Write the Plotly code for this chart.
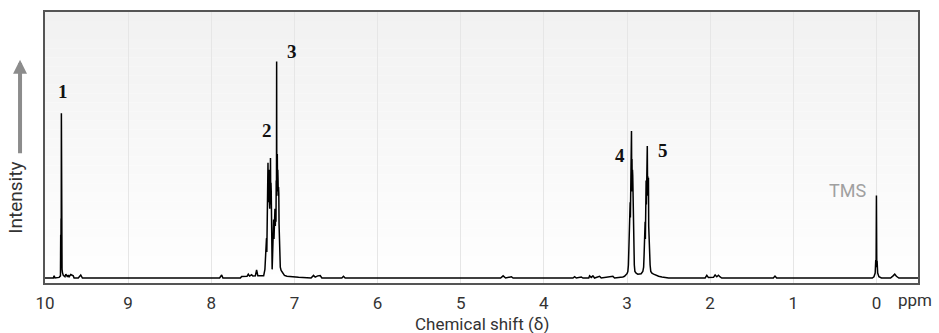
import plotly.graph_objects as go

# ---------------- data (chemical shift in ppm, relative intensity) ----------------
baseline_ppm = [10.0, 9.90, 9.89, 9.88, 9.60, 9.57, 9.55, 9.0, 8.0, 7.90, 7.875, 7.86,
                7.65, 7.635, 7.57, 7.555, 7.54, 7.525, 7.515, 7.50, 7.47, 7.455, 7.44, 7.415, 7.39,
                6.95, 6.80, 6.77, 6.75, 6.72, 6.69, 6.67, 6.43, 6.41, 6.39, 5.0, 4.52, 4.49, 4.46,
                4.39, 4.37, 3.65, 3.63, 3.61, 3.55, 3.53, 3.46, 3.45, 3.43, 3.41, 3.39, 3.33,
                3.31, 3.17, 3.15, 3.05,
                2.40, 2.06, 2.04, 2.02, 1.96, 1.94, 1.92, 1.90, 1.88, 1.86, 1.24, 1.22, 1.20,
                0.5, 0.10, -0.06, -0.17, -0.20, -0.22, -0.24, -0.27, -0.5]
baseline_int = [0.0, 0.0, 1.0, 0.0, 0.0, 1.4, 0.0, 0.0, 0.0, 0.0, 1.4, 0.0,
                0.0, 0.7, 0.8, 1.8, 0.9, 1.2, 1.5, 0.9, 1.0, 3.7, 1.0, 1.0, 0.9,
                0.3, 0.0, 1.2, 0.4, 1.0, 1.1, 0.0, 0.0, 0.8, 0.0, 0.0, 0.0, 1.0, 0.0,
                0.6, 0.0, 0.0, 0.6, 0.0, 0.5, 0.0, 0.0, 1.0, 0.3, 1.0, 0.0, 0.8,
                0.0, 0.8, 0.0, 0.5,
                0.0, 0.0, 1.2, 0.2, 0.3, 1.4, 0.6, 1.3, 0.5, 0.0, 0.0, 0.9, 0.0,
                0.0, 0.0, 0.0, 0.0, 1.0, 1.8, 0.8, 0.0, 0.0]

# signal 1 (aldehyde H)
peak1_ppm = [9.83, 9.814, 9.811, 9.809, 9.807, 9.805, 9.803, 9.801, 9.798, 9.795, 9.790,
             9.78, 9.76, 9.75, 9.73, 9.72, 9.71, 9.69, 9.66, 9.65]
peak1_int = [0.3, 1.0, 20.0, 8.0, 27.5, 15.0, 76.1, 8.0, 5.0, 4.0, 2.5,
             1.2, 0.6, 1.8, 0.5, 1.4, 0.6, 1.6, 1.0, 0.0]

# signals 2 and 3 (aromatic H)
aromatic_ppm = [7.37, 7.355, 7.345, 7.340, 7.336, 7.332, 7.328, 7.325, 7.321, 7.318, 7.315,
                7.312, 7.309, 7.306, 7.303, 7.300, 7.297, 7.294, 7.291, 7.288, 7.285, 7.282,
                7.279, 7.276, 7.272, 7.268, 7.263, 7.258, 7.254, 7.250, 7.246, 7.242, 7.238,
                7.234, 7.230, 7.226, 7.222, 7.219, 7.216, 7.214, 7.212, 7.209, 7.206, 7.203,
                7.200, 7.197, 7.194, 7.191, 7.188, 7.185, 7.181, 7.176, 7.170, 7.160, 7.14,
                7.12, 7.09, 7.05, 7.00]
aromatic_int = [1.0, 4.0, 10.0, 14.0, 18.3, 12.0, 30.0, 18.0, 38.0, 53.2, 35.0,
                48.0, 40.0, 50.0, 38.0, 45.0, 32.0, 48.0, 36.0, 55.5, 34.0, 44.0,
                40.0, 22.0, 12.0, 4.0, 10.0, 16.0, 20.0, 27.0, 18.0, 30.0, 22.0,
                32.0, 24.0, 29.8, 26.0, 45.0, 38.0, 100.0, 40.0, 52.0, 57.3, 42.0,
                50.0, 45.0, 38.0, 42.0, 39.0, 25.0, 15.0, 8.0, 5.0, 3.5, 2.0,
                1.2, 0.8, 0.6, 0.3]

# signals 4 and 5 (CH2 groups)
ch2_ppm = [3.03, 3.00, 2.99, 2.983, 2.978, 2.974, 2.971, 2.968, 2.965, 2.962, 2.959,
           2.956, 2.953, 2.950, 2.948, 2.946, 2.943, 2.940, 2.937, 2.934, 2.931, 2.928,
           2.925, 2.922, 2.918, 2.912, 2.905, 2.89, 2.87, 2.85, 2.83, 2.81, 2.800, 2.795,
           2.790, 2.786, 2.782, 2.779, 2.776, 2.773, 2.770, 2.767, 2.764, 2.761, 2.758,
           2.756, 2.753, 2.750, 2.747, 2.744, 2.742, 2.739, 2.735, 2.731, 2.728, 2.722,
           2.714, 2.70, 2.68, 2.66, 2.62, 2.58, 2.54, 2.50]
ch2_int = [0.8, 2.0, 3.0, 6.0, 15.0, 10.0, 22.0, 28.9, 24.0, 35.0, 28.0,
           42.0, 34.0, 50.0, 45.0, 67.9, 45.0, 55.0, 40.0, 50.0, 47.2, 36.0,
           40.0, 28.0, 15.0, 6.0, 3.0, 2.2, 1.8, 1.8, 2.0, 3.0, 5.0, 10.0,
           20.0, 12.0, 26.0, 18.0, 35.0, 28.0, 45.0, 34.0, 50.0, 42.0, 55.0,
           61.0, 44.0, 47.0, 38.0, 44.0, 46.3, 24.0, 18.0, 14.0, 11.5, 6.0,
           3.0, 2.2, 1.8, 1.4, 0.8, 0.5, 0.2, 0.0]

# TMS reference
tms_ppm = [0.05, 0.03, 0.015, 0.008, 0.004, 0.000, -0.004, -0.008, -0.015, -0.03]
tms_int = [0.0, 0.6, 2.3, 8.3, 5.0, 38.1, 6.0, 8.0, 2.3, 0.6]

tick_vals = [10, 9, 8, 7, 6, 5, 4, 3, 2, 1, 0]
tick_text = ["10", "9", "8", "7", "6", "5", "4", "3", "2", "1", "0"]

peak_labels = ["1", "2", "3", "4", "5"]
label_ppm = [9.78, 7.33, 7.03, 3.09, 2.57]
label_int = [86.0, 68.0, 104.6, 56.4, 58.7]

# ---------------- build the spectrum ----------------
pts = sorted(zip(baseline_ppm + peak1_ppm + aromatic_ppm + ch2_ppm + tms_ppm,
                 baseline_int + peak1_int + aromatic_int + ch2_int + tms_int),
             key=lambda p: -p[0])
shift = [p[0] for p in pts]
inten = [p[1] for p in pts]

X_RANGE = [10.0, -0.5]
Y_RANGE = [-2.3, 122.9]

fig = go.Figure()
fig.add_trace(go.Scatter(x=shift, y=inten, mode="lines",
                         line=dict(color="#000000", width=1.5),
                         hoverinfo="skip", showlegend=False))

# soft vertical gradient in the plotting area
shapes = []
n_bands = 30
for i in range(n_bands):
    g = int(round(255 - (255 - 241) * (i + 0.5) / n_bands))
    shapes.append(dict(type="rect", xref="paper", yref="paper", layer="below",
                       x0=0, x1=1, y0=i / n_bands, y1=(i + 1) / n_bands,
                       fillcolor=f"rgb({g},{g},{g})", line=dict(width=0)))

annotations = []
for t, xp, yp in zip(peak_labels, label_ppm, label_int):
    annotations.append(dict(x=xp, y=yp, xref="x", yref="y", text=f"<b>{t}</b>",
                            showarrow=False,
                            font=dict(family="Liberation Serif", size=19, color="#111111")))
annotations.append(dict(x=0.35, y=40.4, xref="x", yref="y", text="TMS", showarrow=False,
                        font=dict(family="Roboto", size=18, color="#a0a0a0")))
annotations.append(dict(x=1.0, y=-0.062, xref="paper", yref="paper", text="ppm",
                        xanchor="center", yanchor="middle", xshift=-3, showarrow=False,
                        font=dict(family="Roboto", size=17, color="#333333")))
annotations.append(dict(x=0.5, y=-0.152, xref="paper", yref="paper",
                        text="Chemical shift (δ)", showarrow=False,
                        xanchor="center", yanchor="middle",
                        font=dict(family="Roboto", size=17, color="#333333")))
annotations.append(dict(x=-0.0332, y=0.315, xref="paper", yref="paper", text="Intensity",
                        textangle=-90, showarrow=False, xanchor="center", yanchor="middle",
                        font=dict(family="Roboto", size=19, color="#333333")))
annotations.append(dict(x=-0.0286, y=0.824, xref="paper", yref="paper", text="",
                        showarrow=True, ax=0, ay=95, axref="pixel", ayref="pixel",
                        arrowhead=2, arrowsize=0.7, arrowwidth=4, arrowcolor="#8c8c8c"))

fig.update_layout(
    width=939, height=333,
    margin=dict(l=45, r=21, t=10, b=50),
    paper_bgcolor="#ffffff", plot_bgcolor="#ffffff",
    shapes=shapes, annotations=annotations, showlegend=False,
    xaxis=dict(range=X_RANGE, tickvals=tick_vals, ticktext=tick_text,
               showgrid=True, gridcolor="#e6e6e6", gridwidth=1,
               showline=True, linecolor="#555555", linewidth=2, mirror=True,
               ticks="", ticklabelstandoff=4, zeroline=False,
               tickfont=dict(family="Roboto", size=17, color="#333333")),
    yaxis=dict(range=Y_RANGE, showgrid=False, zeroline=False, showticklabels=False,
               showline=True, linecolor="#555555", linewidth=2, mirror=True, ticks=""),
)

fig.write_html("out.html", config={"displayModeBar": False},
               post_script="document.body.style.margin='0';document.body.style.overflow='hidden';")
